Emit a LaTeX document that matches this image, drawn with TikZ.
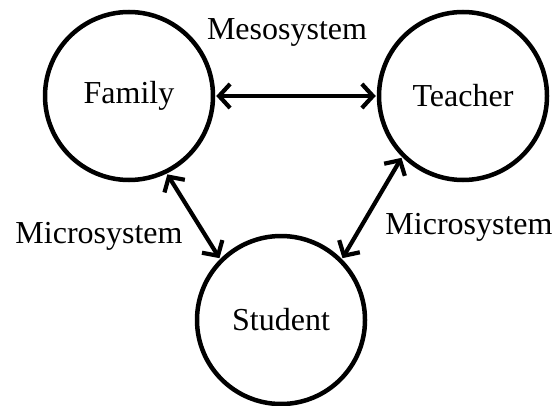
\documentclass[tikz,border=0pt]{standalone}
\usepackage{fontspec}
\setmainfont{Liberation Serif}
\usetikzlibrary{arrows.meta}
\begin{document}
\begin{tikzpicture}[x=1pt,y=-1pt,
  ent/.style={circle,draw,line width=4.5pt,minimum size=168pt,inner sep=0pt,font=\fontsize{32}{38}\selectfont},
  lbl/.style={inner sep=0pt,font=\fontsize{32}{38}\selectfont},
  link/.style={line width=4.2pt,{Straight Barb[length=11pt,width=24pt,line width=4.2pt]}-{Straight Barb[length=11pt,width=24pt,line width=4.2pt]},shorten <=1pt,shorten >=1pt}]
\useasboundingbox (0,0) rectangle (553,406);
\node[ent] (family) at (129,96) {Family};
\node[ent] (teacher) at (463,96) {Teacher};
\node[ent] (student) at (281,320) {Student};
\node[lbl] (meso) at (287,32) {Mesosystem};
\node[lbl] (microl) at (99,236) {Microsystem};
\node[lbl] (micror) at (469,227) {Microsystem};
\draw[link] (family.east) -- (teacher.west);
\draw[link] (family.-64) -- (student.135);
\draw[link] (teacher.225) -- (student.45);
\end{tikzpicture}
\end{document}
